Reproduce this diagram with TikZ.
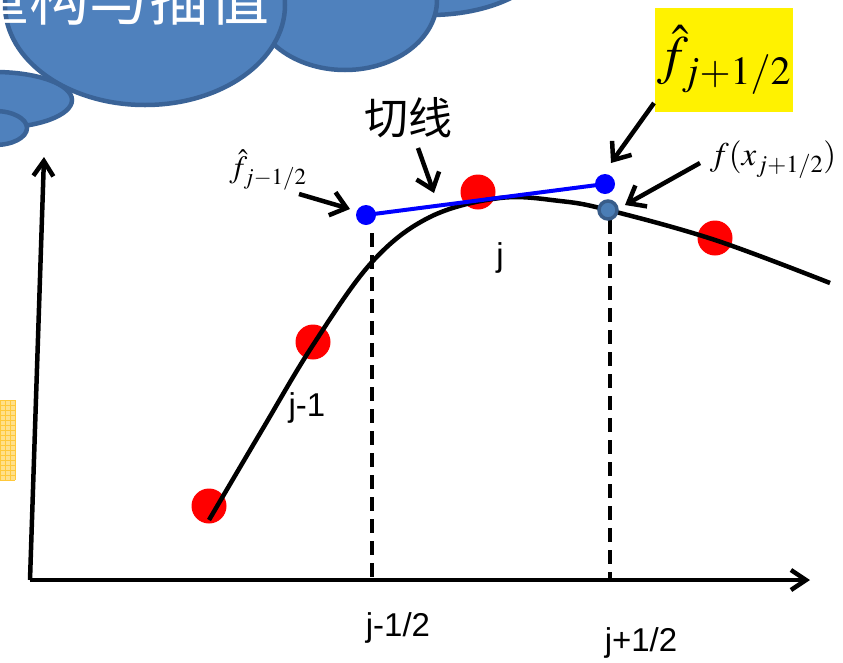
\documentclass[tikz,border=0pt]{standalone}
\usepackage{mathptmx}
\usepackage[no-math]{fontspec}
\setmainfont{Liberation Sans}
\newfontfamily\cjk{Noto Sans CJK SC}
\usetikzlibrary{arrows.meta}
\definecolor{cloudfill}{HTML}{4F81BD}
\definecolor{cloudline}{HTML}{3A6397}
\definecolor{gridfill}{HTML}{FFE08A}
\definecolor{gridline}{HTML}{FFC83A}
\definecolor{dotgray}{HTML}{4A7DB5}
\definecolor{dotgrayline}{HTML}{385D8A}
\tikzset{
  lobe/.style={fill=cloudfill, draw=cloudline, line width=4.5pt},
  reddot/.style={circle, fill=red, minimum size=35pt, inner sep=0pt},
  bluedot/.style={circle, fill=blue, minimum size=20pt, inner sep=0pt},
  graydot/.style={circle, fill=dotgray, draw=dotgrayline, line width=3.5pt, minimum size=18pt, inner sep=0pt},
  curveline/.style={line width=4.5pt, black},
  guide/.style={line width=4.5pt, dash pattern=on 14pt off 8pt},
  pointer/.style={line width=4.5pt, -{Straight Barb[length=15pt, width=24pt]}},
  axis/.style={line width=4.5pt, -{Straight Barb[length=15pt, width=20pt]}},
  lab/.style={font=\fontsize{33}{36}\selectfont, inner sep=0pt},
  tangentline/.style={line width=4pt, blue}
}
\begin{document}
\begin{tikzpicture}[x=1pt, y=-1pt]
\useasboundingbox (0,0) rectangle (843,662);
% cloud (cut by the top edge)
\begin{scope}
\clip (0,0) rectangle (843,662);
\fill[lobe] (430,-50) ellipse [x radius=120, y radius=65];
\fill[lobe] (345,0) ellipse [x radius=92, y radius=70];
\fill[lobe] (145,5) ellipse [x radius=140, y radius=100];
\fill[lobe] (-5,100) ellipse [x radius=77, y radius=28];
\fill[lobe] (-5,128) ellipse [x radius=32, y radius=17];
\node[text=white, font=\cjk\fontsize{60}{62}\selectfont, inner sep=0pt] (title) at (120,-2) {重构与插值};
\end{scope}
% yellow grid patch at left edge
\fill[gridfill] (0,400) rectangle (15,480);
\draw[gridline, line width=0.8pt, step=5pt] (0,400) grid (15,480);
% axes
\coordinate (O) at (30,580);
\coordinate (ytop) at (44,157);
\coordinate (xend) at (810,580);
\draw[axis] (O) -- (ytop);
\draw[axis] (O) -- (xend);
% red points
\node[reddot] (p1) at (209,506) {};
\node[reddot] (p2) at (313,342) {};
\node[reddot] (p3) at (478,192) {};
\node[reddot] (p4) at (715,238) {};
% curve
\draw[curveline] plot[smooth, tension=0.6] coordinates
  {(209,520) (262,430) (313,345) (372,262) (430,217) (500,198) (560,201) (608,210) (715,240) (830,283)};
% dashed guides
\coordinate (g1top) at (372,233);
\coordinate (g1bot) at (372,580);
\coordinate (g2top) at (610,220);
\coordinate (g2bot) at (610,580);
\draw[guide] (g1top) -- (g1bot);
\draw[guide] (g2top) -- (g2bot);
% tangent line and reconstructed points
\node[bluedot] (bl) at (366,215) {};
\node[bluedot] (br) at (605,184) {};
\draw[tangentline] (bl.center) -- (br.center);
\node[graydot] (fx) at (608,210) {};
% labels
\node[lab] (lj) at (500,258) {j};
\node[lab] (ljm) at (307,408) {j-1};
\node[lab] (ljmh) at (398,628) {j-1/2};
\node[lab] (ljph) at (641,643) {j+1/2};
\node[font=\cjk\fontsize{44}{46}\selectfont, inner sep=0pt] (qx) at (408,118) {切线};
\node[inner sep=0pt, font=\fontsize{31}{34}\selectfont] (fl) at (268,170) {$\hat{f}_{j-1/2}$};
\node[fill=yellow, minimum width=138pt, minimum height=104pt, inner sep=0pt,
      font=\fontsize{54}{58}\selectfont] (box) at (724,60) {$\hat{f}_{j+1/2}$};
\node[inner sep=0pt, font=\fontsize{33}{36}\selectfont] (fxl) at (773,160) {$f(x_{j+1/2})$};
% pointers
\coordinate (a1s) at (418,148);
\coordinate (a1e) at (434,193);
\coordinate (a2s) at (299,194);
\coordinate (a2e) at (350,209);
\coordinate (a3s) at (654,103);
\coordinate (a3e) at (611,163);
\coordinate (a4s) at (700,163);
\coordinate (a4e) at (625,205);
\draw[pointer] (a1s) -- (a1e);
\draw[pointer] (a2s) -- (a2e);
\draw[pointer] (a3s) -- (a3e);
\draw[pointer] (a4s) -- (a4e);
\end{tikzpicture}
\end{document}
